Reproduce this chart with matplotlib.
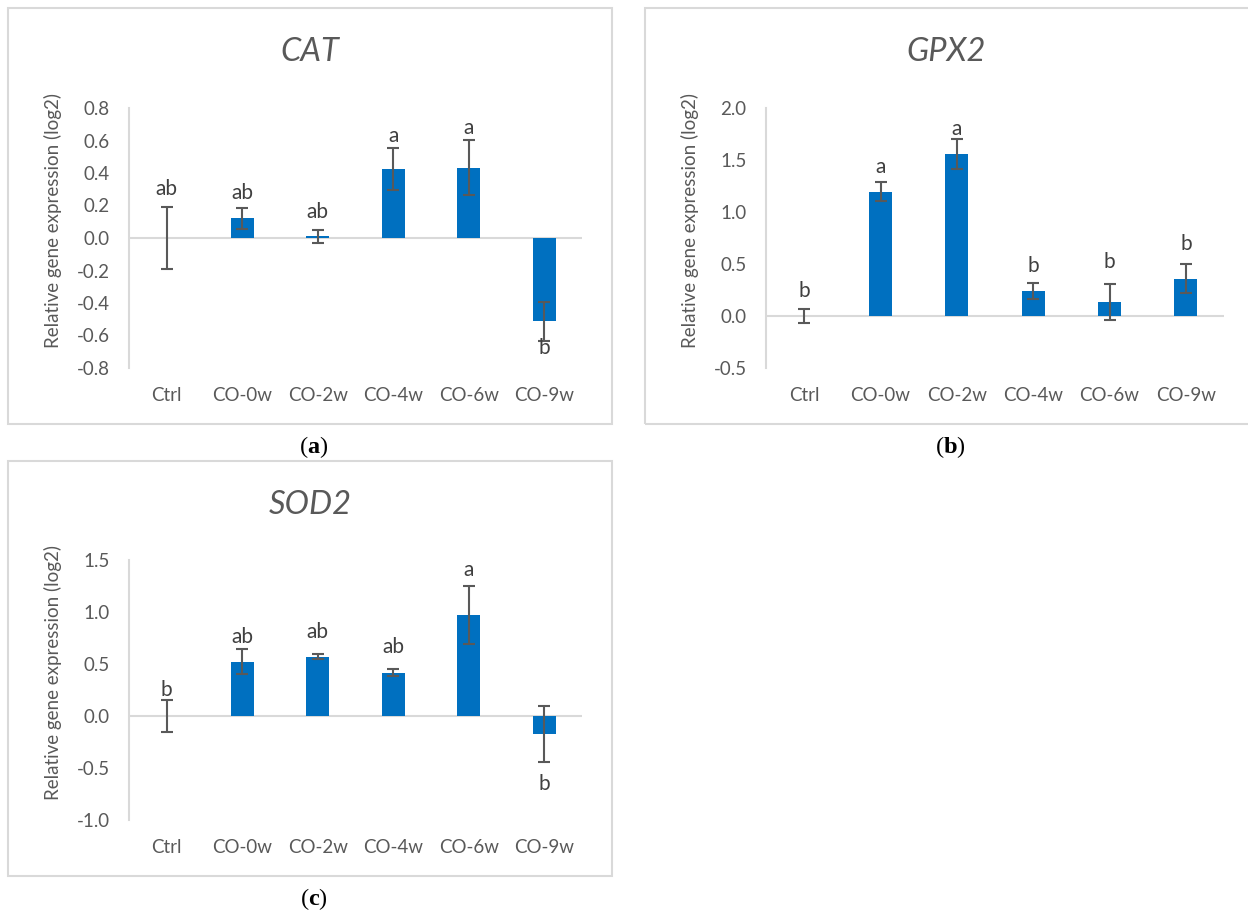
import matplotlib
matplotlib.use("Agg")
import matplotlib.pyplot as plt
from matplotlib.patches import Rectangle
import numpy as np

plt.rcParams["mathtext.fontset"] = "custom"
plt.rcParams["mathtext.rm"] = "Liberation Serif"
plt.rcParams["mathtext.bf"] = "Liberation Serif:bold"

categories = ["Ctrl", "CO-0w", "CO-2w", "CO-4w", "CO-6w", "CO-9w"]

cat_values = [0.0, 0.12, 0.01, 0.425, 0.433, -0.511]
cat_errors = [0.19, 0.065, 0.04, 0.13, 0.17, 0.12]
cat_letters = ["ab", "ab", "ab", "a", "a", "b"]
cat_letter_y = [0.303, 0.276, 0.159, 0.63, 0.68, -0.676]
cat_ticks = [-0.8, -0.6, -0.4, -0.2, 0.0, 0.2, 0.4, 0.6, 0.8]

gpx_values = [0.0, 1.194, 1.558, 0.239, 0.132, 0.358]
gpx_errors = [0.065, 0.09, 0.14, 0.08, 0.175, 0.14]
gpx_letters = ["b", "a", "a", "b", "b", "b"]
gpx_letter_y = [0.242, 1.435, 1.797, 0.48, 0.516, 0.694]
gpx_ticks = [-0.5, 0.0, 0.5, 1.0, 1.5, 2.0]

sod_values = [0.0, 0.524, 0.569, 0.418, 0.974, -0.174]
sod_errors = [0.15, 0.12, 0.025, 0.037, 0.28, 0.27]
sod_letters = ["b", "ab", "ab", "ab", "a", "b"]
sod_letter_y = [0.248, 0.762, 0.81, 0.659, 1.40, -0.653]
sod_ticks = [-1.0, -0.5, 0.0, 0.5, 1.0, 1.5]

W, H = 1248, 913
fig = plt.figure(figsize=(W / 100, H / 100), dpi=100)
FONT = ["Lato", "DejaVu Sans"]
TXT = "#595959"
GRID = "#d9d9d9"
BAR = "#0070c0"
ERR = "#595959"


def fx(px):
    return px / W


def fy(py):
    return 1 - py / H


def border(x0, y0, x1, y1):
    r = Rectangle((fx(x0), fy(y1)), fx(x1) - fx(x0), fy(y0) - fy(y1),
                  transform=fig.transFigure, fill=False, edgecolor=GRID, lw=1.5)
    fig.patches.append(r)


def panel(box, axbox, title, values, errors, letters, letter_y, yticks, tag, cx):
    bx0, by0, bx1, by1 = box
    border(bx0, by0, bx1, by1)
    ax0, ay0, ax1, ay1 = axbox
    ax = fig.add_axes([fx(ax0), fy(ay1), fx(ax1) - fx(ax0), fy(ay0) - fy(ay1)])
    x = np.arange(len(categories))
    ax.axhline(0, color=GRID, lw=1.5, zorder=1)
    ax.bar(x, values, width=0.30, color=BAR, zorder=2)
    ax.errorbar(x, values, yerr=errors, fmt="none", ecolor=ERR, elinewidth=1.5,
                capsize=4.5, capthick=1.5, zorder=3)
    for xi, lt, ly in zip(x, letters, letter_y):
        ax.text(xi, ly, lt, ha="center", va="center", fontsize=15, color="#404040",
                family=FONT)
    ax.set_xlim(-0.5, len(categories) - 0.5)
    ax.set_ylim(yticks[0], yticks[-1])
    ax.set_yticks(yticks)
    ax.set_yticklabels([f"{round(t, 1) + 0.0:.1f}" for t in yticks], family=FONT,
                       fontsize=13.5, color=TXT)
    ax.set_xticks(x)
    ax.set_xticklabels(categories, family=FONT, fontsize=13.5, color=TXT)
    ax.tick_params(axis="y", length=0, pad=14)
    ax.tick_params(axis="x", length=0, pad=14)
    for s in ["top", "right", "bottom"]:
        ax.spines[s].set_visible(False)
    ax.spines["left"].set_color(GRID)
    ax.spines["left"].set_linewidth(1.5)
    ax.patch.set_alpha(0)
    fig.text(fx(cx), fy(by0 + 44), title, ha="center", va="center", fontsize=23.5,
             style="italic", color=TXT, family=FONT)
    fig.text(fx(ax0 - 76), fy((ay0 + ay1) / 2 - 18), "Relative gene expression (log2)",
             rotation=90, ha="center", va="center", fontsize=13.5, color=TXT, family=FONT)
    fig.text(fx(cx + 4), fy(by1 + 23), "(" + r"$\mathbf{" + tag + "}$" + ")",
             ha="center", va="center", fontsize=17.5,
             family="Liberation Serif", color="black")
    return ax


panel((8, 8, 612, 424), (129, 108, 582, 368), "CAT", cat_values, cat_errors,
      cat_letters, cat_letter_y, cat_ticks, "a", 310)
panel((645, 8, 1260, 424), (766, 108, 1224, 368), "GPX2", gpx_values, gpx_errors,
      gpx_letters, gpx_letter_y, gpx_ticks, "b", 946)
panel((8, 461, 612, 876), (129, 560, 582, 820), "SOD2", sod_values, sod_errors,
      sod_letters, sod_letter_y, sod_ticks, "c", 310)

fig.savefig("out.png", dpi=100)
